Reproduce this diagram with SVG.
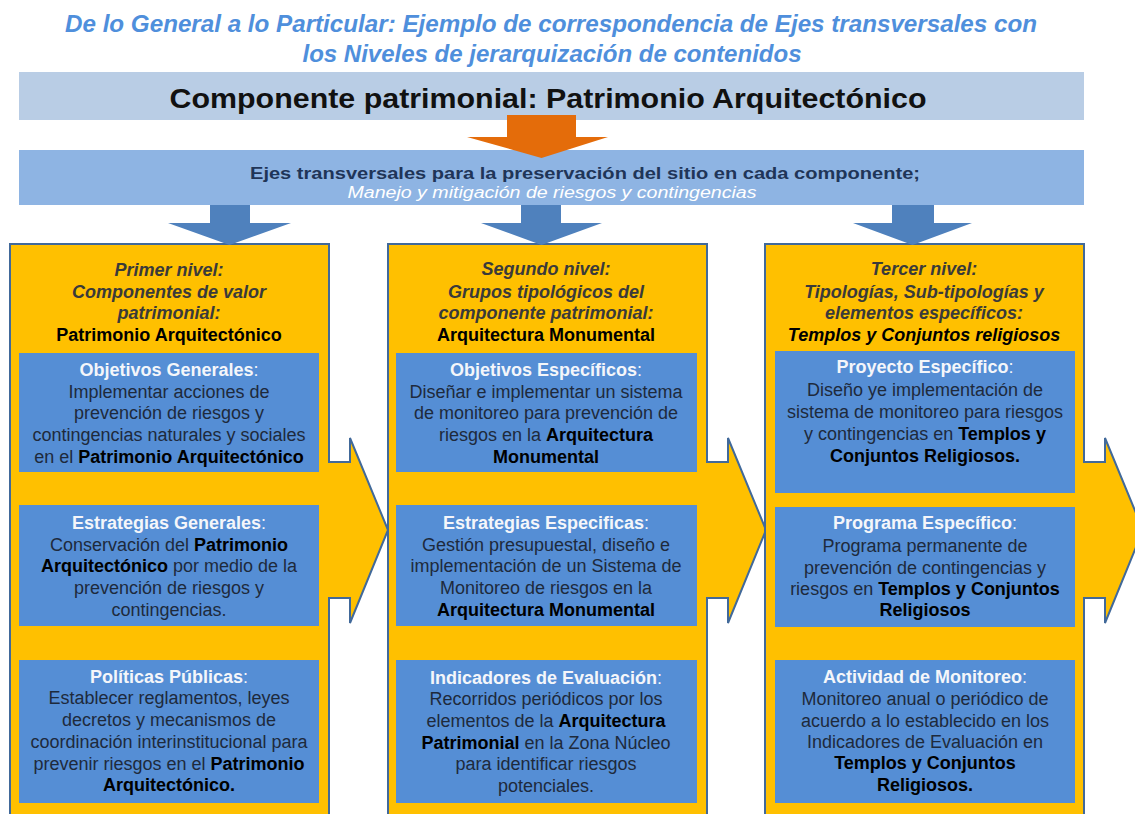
<svg xmlns="http://www.w3.org/2000/svg" width="1135" height="814" viewBox="0 0 1135 814">
<style>
text{font-family:"Liberation Sans",Arial,sans-serif;text-anchor:middle}
.title{font-size:23px;font-weight:bold;font-style:italic;fill:#4f8fdc}
.main{font-size:28px;font-weight:bold;fill:#111}
.ejes{font-size:16px;font-weight:bold;fill:#1f3558}
.ejes2{font-size:16px;font-style:italic;fill:#ffffff}
.col{fill:#ffc000;stroke:#41699a;stroke-width:2}
.box{fill:#558ed5}
.hd{font-size:18px;font-weight:bold;font-style:italic;fill:#3a3a3a}
.hdb{font-size:18px;font-weight:bold;fill:#000}
.bt{font-size:18px;font-weight:bold;fill:#f4f6fa}
.tx{font-size:18px;fill:#1e2a3c}
.b{font-weight:bold;fill:#000}
.n{font-weight:normal}
.arrB{fill:#4f81bd}
.arrO{fill:#e46c0a}
</style>
<rect width="1135" height="814" fill="#ffffff"/>
<g id="title">
<text class="title" x="551" y="32" textLength="972" lengthAdjust="spacingAndGlyphs">De lo General a lo Particular: Ejemplo de correspondencia de Ejes transversales con</text>
<text class="title" x="552" y="62" textLength="499" lengthAdjust="spacingAndGlyphs">los Niveles de jerarquización de contenidos</text>
</g>
<g id="componente">
<rect x="19" y="72" width="1065" height="48" fill="#b9cde5"/>
<text class="main" x="548" y="108" textLength="757" lengthAdjust="spacingAndGlyphs">Componente patrimonial: Patrimonio Arquitectónico</text>
</g>
<g id="ejes">
<rect x="19" y="150" width="1065" height="55" fill="#8eb4e3"/>
<text class="ejes" x="585" y="179" textLength="670" lengthAdjust="spacingAndGlyphs">Ejes transversales para la preservación del sitio en cada componente;</text>
<text class="ejes2" x="552" y="198" textLength="409" lengthAdjust="spacingAndGlyphs">Manejo y mitigación de riesgos y contingencias</text>
</g>
<g id="nivel1">
<path class="col" d="M10,244 H329 V462 H350 V438 L388,530 L350,623 V598 H329 V830 H10 Z"/>
<text class="hd" x="169" y="276">Primer nivel:</text>
<text class="hd" x="169" y="298">Componentes de valor</text>
<text class="hd" x="169" y="319">patrimonial:</text>
<text class="hdb" x="169" y="341">Patrimonio Arquitectónico</text>
<g id="objetivos-generales">
<rect class="box" x="19" y="353" width="300" height="119"/>
<text class="bt" x="169" y="376">Objetivos Generales<tspan class="n">:</tspan></text>
<text class="tx" x="169" y="398">Implementar acciones de</text>
<text class="tx" x="169" y="419">prevención de riesgos y</text>
<text class="tx" x="169" y="441">contingencias naturales y sociales</text>
<text class="tx" x="169" y="463">en el <tspan class="b">Patrimonio Arquitectónico</tspan></text>
</g>
<g id="estrategias-generales">
<rect class="box" x="19" y="505" width="300" height="121"/>
<text class="bt" x="169" y="529">Estrategias Generales<tspan class="n">:</tspan></text>
<text class="tx" x="169" y="551">Conservación del <tspan class="b">Patrimonio</tspan></text>
<text class="tx" x="169" y="572"><tspan class="b">Arquitectónico</tspan> por medio de la</text>
<text class="tx" x="169" y="594">prevención de riesgos y</text>
<text class="tx" x="169" y="616">contingencias.</text>
</g>
<g id="politicas-publicas">
<rect class="box" x="19" y="660" width="300" height="143"/>
<text class="bt" x="169" y="683">Políticas Públicas<tspan class="n">:</tspan></text>
<text class="tx" x="169" y="704">Establecer reglamentos, leyes</text>
<text class="tx" x="169" y="726">decretos y mecanismos de</text>
<text class="tx" x="169" y="748">coordinación interinstitucional para</text>
<text class="tx" x="169" y="770">prevenir riesgos en el <tspan class="b">Patrimonio</tspan></text>
<text class="tx" x="169" y="791"><tspan class="b">Arquitectónico.</tspan></text>
</g>
</g>
<g id="nivel2">
<path class="col" d="M388,244 H707 V462 H728 V438 L766,530 L728,623 V598 H707 V830 H388 Z"/>
<text class="hd" x="546" y="275">Segundo nivel:</text>
<text class="hd" x="546" y="298">Grupos tipológicos del</text>
<text class="hd" x="546" y="319">componente patrimonial:</text>
<text class="hdb" x="546" y="341">Arquitectura Monumental</text>
<g id="objetivos-especificos">
<rect class="box" x="396" y="353" width="301" height="119"/>
<text class="bt" x="546" y="376">Objetivos Específicos<tspan class="n">:</tspan></text>
<text class="tx" x="546" y="398">Diseñar e implementar un sistema</text>
<text class="tx" x="546" y="419">de monitoreo para prevención de</text>
<text class="tx" x="546" y="441">riesgos en la <tspan class="b">Arquitectura</tspan></text>
<text class="tx" x="546" y="463"><tspan class="b">Monumental</tspan></text>
</g>
<g id="estrategias-especificas">
<rect class="box" x="396" y="505" width="301" height="121"/>
<text class="bt" x="546" y="529">Estrategias Especificas<tspan class="n">:</tspan></text>
<text class="tx" x="546" y="551">Gestión presupuestal, diseño e</text>
<text class="tx" x="546" y="572">implementación de un Sistema de</text>
<text class="tx" x="546" y="594">Monitoreo de riesgos en la</text>
<text class="tx" x="546" y="616"><tspan class="b">Arquitectura Monumental</tspan></text>
</g>
<g id="indicadores-evaluacion">
<rect class="box" x="396" y="660" width="301" height="143"/>
<text class="bt" x="546" y="684">Indicadores de Evaluación<tspan class="n">:</tspan></text>
<text class="tx" x="546" y="705">Recorridos periódicos por los</text>
<text class="tx" x="546" y="727">elementos de la <tspan class="b">Arquitectura</tspan></text>
<text class="tx" x="546" y="749"><tspan class="b">Patrimonial</tspan> en la Zona Núcleo</text>
<text class="tx" x="546" y="770">para identificar riesgos</text>
<text class="tx" x="546" y="792">potenciales.</text>
</g>
</g>
<g id="nivel3">
<path class="col" d="M765,244 H1084 V462 H1105 V438 L1143,530 L1105,623 V598 H1084 V830 H765 Z"/>
<text class="hd" x="924" y="275">Tercer nivel:</text>
<text class="hd" x="924" y="298">Tipologías, Sub-tipologías y</text>
<text class="hd" x="924" y="319">elementos específicos:</text>
<text class="hd" x="924" y="341" style="fill:#000">Templos y Conjuntos religiosos</text>
<g id="proyecto-especifico">
<rect class="box" x="775" y="351" width="300" height="142"/>
<text class="bt" x="925" y="373">Proyecto Específico<tspan class="n">:</tspan></text>
<text class="tx" x="925" y="396">Diseño ye implementación de</text>
<text class="tx" x="925" y="418">sistema de monitoreo para riesgos</text>
<text class="tx" x="925" y="440">y contingencias en <tspan class="b">Templos y</tspan></text>
<text class="tx" x="925" y="462"><tspan class="b">Conjuntos Religiosos.</tspan></text>
</g>
<g id="programa-especifico">
<rect class="box" x="775" y="507" width="300" height="120"/>
<text class="bt" x="925" y="529">Programa Específico<tspan class="n">:</tspan></text>
<text class="tx" x="925" y="552">Programa permanente de</text>
<text class="tx" x="925" y="574">prevención de contingencias y</text>
<text class="tx" x="925" y="595">riesgos en <tspan class="b">Templos y Conjuntos</tspan></text>
<text class="tx" x="925" y="616"><tspan class="b">Religiosos</tspan></text>
</g>
<g id="actividad-monitoreo">
<rect class="box" x="775" y="660" width="300" height="143"/>
<text class="bt" x="925" y="683">Actividad de Monitoreo<tspan class="n">:</tspan></text>
<text class="tx" x="925" y="705">Monitoreo anual o periódico de</text>
<text class="tx" x="925" y="727">acuerdo a lo establecido en los</text>
<text class="tx" x="925" y="748">Indicadores de Evaluación en</text>
<text class="tx" x="925" y="769"><tspan class="b">Templos y Conjuntos</tspan></text>
<text class="tx" x="925" y="791"><tspan class="b">Religiosos.</tspan></text>
</g>
</g>
<g id="connectors">
<path class="arrO" d="M507,115 H576 V137 H608 L541.5,158 L467,137 H507 Z"/>
<path class="arrB" d="M210,205 H250 V223 H291 L229.5,245 L168,223 H210 Z"/>
<path class="arrB" d="M521,205 H561 V223 H602 L541.5,245 L481,223 H521 Z"/>
<path class="arrB" d="M892,205 H934 V223 H972 L912.5,245 L853,223 H892 Z"/>
</g>
</svg>
